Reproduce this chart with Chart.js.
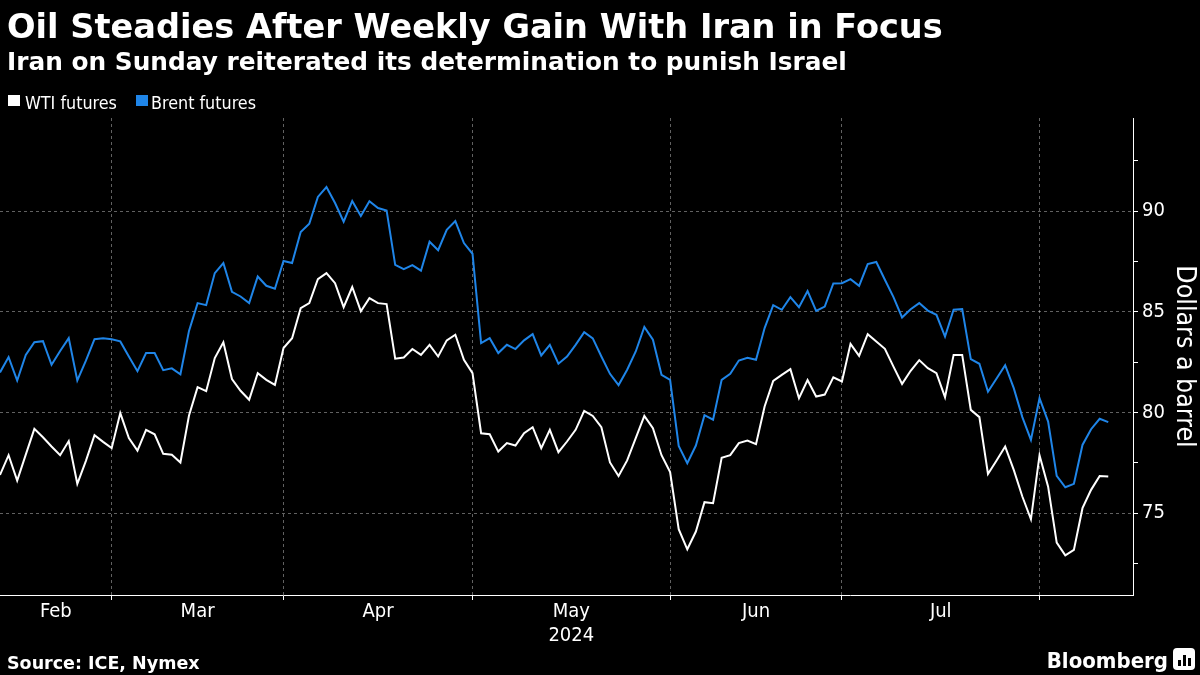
<!DOCTYPE html>
<html>
<head>
<meta charset="utf-8">
<script src="https://cdn.jsdelivr.net/npm/chart.js@4.4.1/dist/chart.umd.min.js"></script>
<style>
  html, body { margin: 0; padding: 0; background: #000; }
  #wrap { position: relative; width: 1200px; height: 675px; overflow: hidden; background: #000; }
  #chart { position: absolute; left: 0; top: 0; }
  .txt { position: absolute; color: #fff; white-space: nowrap; line-height: 1; z-index: 2; }
  #title { left: 7px; top: 7px; font: bold 33.6px 'DejaVu Sans', sans-serif; }
  #subtitle { left: 7px; top: 47px; font: bold 24.8px 'DejaVu Sans', sans-serif; }
  .lg { top: 92px; font: 17.8px 'DejaVu Sans Condensed', 'DejaVu Sans', sans-serif; }
  .box { position: absolute; top: 95px; width: 12px; height: 11px; z-index: 2; }
  #source { left: 7px; top: 653px; font: bold 17.5px 'DejaVu Sans', sans-serif; }
  #brand { right: 32px; top: 648px; font: bold 22px 'DejaVu Sans Condensed', 'DejaVu Sans', sans-serif; }
  #icon { position: absolute; left: 1173px; top: 648px; width: 22px; height: 22px; background: #fff; border-radius: 4px; z-index: 2; }
  #icon span { position: absolute; bottom: 4px; width: 3px; background: #000; }
</style>
</head>
<body>
<div id="wrap">
  <canvas id="chart" width="1200" height="675"></canvas>
  <div class="txt" id="title">Oil Steadies After Weekly Gain With Iran in Focus</div>
  <div class="txt" id="subtitle">Iran on Sunday reiterated its determination to punish Israel</div>
  <div class="box" style="left:8px; background:#fff;"></div>
  <div class="txt lg" style="left:25px;">WTI futures</div>
  <div class="box" style="left:136px; background:#1f85e8;"></div>
  <div class="txt lg" style="left:151px;">Brent futures</div>
  <div class="txt" id="source">Source: ICE, Nymex</div>
  <div class="txt" id="brand">Bloomberg</div>
  <div id="icon"><span style="left:5px;height:6px"></span><span style="left:10px;height:11px"></span><span style="left:15px;height:8px"></span></div>
</div>
<script>
// daily settles, one value per trading day (index 0 = first session shown)
const wti = [
  76.90, 77.88, 76.62, 77.91, 79.19, 78.77, 78.31, 77.88, 78.58, 76.46,
  77.60, 78.87, 78.54, 78.23, 79.97, 78.73, 78.11, 79.14, 78.92, 77.95,
  77.90, 77.52, 79.85, 81.26, 81.06, 82.70, 83.49, 81.66, 81.08, 80.63,
  81.95, 81.62, 81.37, 83.20, 83.69, 85.18, 85.43, 86.62, 86.92, 86.42,
  85.23, 86.23, 85.03, 85.68, 85.43, 85.38, 82.67, 82.73, 83.15, 82.86,
  83.36, 82.78, 83.58, 83.86, 82.62, 81.95, 78.97, 78.92, 78.06, 78.48,
  78.36, 78.97, 79.27, 78.23, 79.14, 78.03, 78.56, 79.14, 80.08, 79.83,
  79.27, 77.52, 76.85, 77.62, 78.73, 79.83, 79.22, 77.88, 77.04, 74.21,
  73.21, 74.09, 75.55, 75.50, 77.75, 77.88, 78.48, 78.61, 78.43, 80.30,
  81.57, 81.87, 82.15, 80.71, 81.61, 80.79, 80.89, 81.75, 81.54, 83.41,
  82.81, 83.89, 83.53, 83.16, 82.28, 81.42, 82.07, 82.60, 82.20, 81.95,
  80.76, 82.86, 82.86, 80.13, 79.77, 76.95, 77.62, 78.31, 77.15, 75.83,
  74.70, 77.88, 76.32, 73.54, 72.91, 73.18, 75.25, 76.16, 76.85, 76.82
];
const brent = [
  81.99, 82.75, 81.59, 82.86, 83.49, 83.54, 82.37, 83.05, 83.69, 81.59,
  82.57, 83.64, 83.69, 83.64, 83.53, 82.78, 82.05, 82.95, 82.95, 82.10,
  82.19, 81.90, 84.05, 85.43, 85.33, 86.92, 87.42, 85.99, 85.76, 85.43,
  86.75, 86.29, 86.14, 87.52, 87.42, 88.96, 89.37, 90.70, 91.19, 90.40,
  89.47, 90.50, 89.75, 90.49, 90.15, 90.03, 87.33, 87.12, 87.32, 87.04,
  88.48, 88.06, 89.07, 89.50, 88.41, 87.88, 83.44, 83.69, 82.95, 83.36,
  83.15, 83.58, 83.89, 82.83, 83.36, 82.42, 82.78, 83.36, 83.99, 83.68,
  82.78, 81.92, 81.36, 82.12, 83.03, 84.25, 83.61, 81.87, 81.62, 78.34,
  77.48, 78.36, 79.87, 79.64, 81.62, 81.92, 82.58, 82.72, 82.62, 84.19,
  85.33, 85.10, 85.73, 85.23, 86.03, 85.05, 85.26, 86.41, 86.42, 86.62,
  86.29, 87.37, 87.47, 86.59, 85.73, 84.72, 85.13, 85.43, 85.06, 84.85,
  83.77, 85.10, 85.13, 82.65, 82.42, 81.03, 81.69, 82.35, 81.21, 79.77,
  78.64, 80.71, 79.55, 76.85, 76.29, 76.46, 78.39, 79.17, 79.69, 79.52
];

// month labels and the session index where each month begins (last = Aug)
const monthLabels = ['Feb', 'Mar', 'Apr', 'May', 'Jun', 'Jul'];
const monthStarts = [0, 13, 33, 55, 78, 98, 121];
const yearLabel = '2024';
const yearUnder = 'May';

const yTicks = [72.5, 75, 77.5, 80, 82.5, 85, 87.5, 90, 92.5];
const yLabelled = [75, 80, 85, 90];

const WHITE = '#ffffff';
const BLUE = '#1f85e8';
const GRID = 'rgba(255,255,255,0.38)';
const COND = "'DejaVu Sans Condensed', 'DejaVu Sans', sans-serif";

// x ticks: month boundaries (marks + grid, no text) and month middles (text only)
const xTicks = [];
const xText = {};
monthStarts.slice(1).forEach(v => xTicks.push({ value: v, edge: true }));
monthLabels.forEach((m, i) => {
  const mid = (monthStarts[i] + monthStarts[i + 1]) / 2;
  xTicks.push({ value: mid, edge: false });
  xText[mid] = m === yearUnder ? [m, yearLabel] : m;
});
xTicks.sort((a, b) => a.value - b.value);
const isEdge = v => monthStarts.includes(v);

const idx = wti.map((_, i) => i);

new Chart(document.getElementById('chart'), {
  type: 'line',
  data: {
    datasets: [
      {
        label: 'Brent futures',
        data: idx.map(i => ({ x: i, y: brent[i] })),
        borderColor: BLUE,
        borderWidth: 2,
        pointRadius: 0,
        tension: 0
      },
      {
        label: 'WTI futures',
        data: idx.map(i => ({ x: i, y: wti[i] })),
        borderColor: WHITE,
        borderWidth: 2,
        pointRadius: 0,
        tension: 0
      }
    ]
  },
  options: {
    responsive: false,
    animation: false,
    devicePixelRatio: 1,
    layout: { padding: { top: 118, left: 0, right: 0, bottom: 0 } },
    plugins: { legend: { display: false }, tooltip: { enabled: false } },
    scales: {
      x: {
        type: 'linear',
        min: 0,
        max: 131.88,
        afterBuildTicks: s => { s.ticks = xTicks.map(t => ({ value: t.value })); },
        afterFit: s => { s.height = 80; },
        ticks: {
          autoSkip: false,
          maxRotation: 0,
          padding: 0,
          color: WHITE,
          font: { family: COND, size: 20, lineHeight: 1.2 },
          callback: v => xText[v] || ''
        },
        grid: {
          color: c => (c.tick && isEdge(c.tick.value)) ? GRID : 'transparent',
          tickColor: c => (c.tick && isEdge(c.tick.value)) ? WHITE : 'transparent',
          tickLength: 5,
          lineWidth: 1
        },
        border: { display: true, color: WHITE, width: 1, dash: [3, 3] }
      },
      y: {
        type: 'linear',
        position: 'right',
        min: 70.94,
        max: 94.62,
        afterBuildTicks: s => { s.ticks = yTicks.map(v => ({ value: v })); },
        afterFit: s => { s.width = 67; },
        ticks: {
          padding: 4,
          color: WHITE,
          font: { family: COND, size: 20 },
          callback: v => yLabelled.includes(v) ? String(v) : ''
        },
        grid: {
          color: c => (c.tick && yLabelled.includes(c.tick.value)) ? GRID : 'transparent',
          tickColor: WHITE,
          tickLength: 5,
          lineWidth: 1
        },
        border: { display: true, color: WHITE, width: 1, dash: [3, 3] },
        title: {
          display: true,
          text: 'Dollars a barrel',
          color: WHITE,
          font: { family: COND, size: 26.5 },
          padding: 0
        }
      }
    }
  }
});
</script>
</body>
</html>
